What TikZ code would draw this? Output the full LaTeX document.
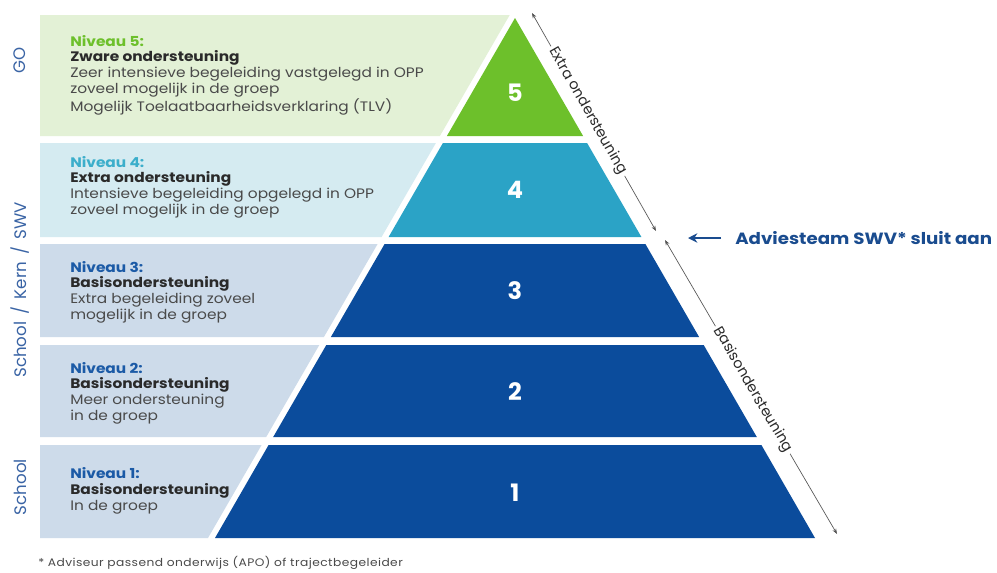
\documentclass[tikz,border=0pt]{standalone}
\usepackage{fontspec}
\setmainfont{Poppins}
\newfontfamily\widefont{Poppins}[FakeStretch=1.12]
\usetikzlibrary{arrows.meta}
\definecolor{boxg}{HTML}{E3F1D6}
\definecolor{pyrg}{HTML}{6DC02B}
\definecolor{boxc}{HTML}{D5EBF1}
\definecolor{pyrc}{HTML}{2BA3C6}
\definecolor{boxb}{HTML}{CDDBEA}
\definecolor{pyrb}{HTML}{0B4C9C}
\definecolor{txtb}{HTML}{1B5AA6}
\definecolor{txtc}{HTML}{3BAECB}
\definecolor{txtg}{HTML}{6DC02B}
\definecolor{bodyt}{HTML}{4A4A4A}
\definecolor{headt}{HTML}{2A2A2A}
\definecolor{sidet}{HTML}{3A64A5}
\definecolor{advt}{HTML}{1A4C8F}
\definecolor{dimt}{HTML}{555555}
\begin{document}
\begin{tikzpicture}[x=0.75pt,y=-0.75pt,
  lvltext/.style={anchor=west,align=left,inner sep=0pt,text=bodyt,font=\widefont\fontsize{10.3}{11.8}\selectfont},
  num/.style={text=white,font=\fontsize{18}{20}\selectfont\bfseries,inner sep=0pt},
  side/.style={rotate=90,text=sidet,font=\fontsize{12.5}{14}\selectfont,inner sep=0pt},
  dimline/.style={draw=dimt,line width=0.5pt,{Stealth[length=4pt,width=3pt]}-{Stealth[length=4pt,width=3pt]}},
  dimlabel/.style={sloped,fill=white,inner sep=2pt,text=headt,font=\fontsize{10.8}{12}\selectfont},
  hd/.style={text=headt}]
\useasboundingbox (0,0) rectangle (997,572);
\fill[white] (0,0) rectangle (997,572);
% left boxes
\fill[boxg] (40,15) -- (509.7,15) -- (439.9,136) -- (40,136) -- cycle;
\fill[boxc] (40,143) -- (435.9,143) -- (381.6,237) -- (40,237) -- cycle;
\fill[boxb] (40,244) -- (377.6,244) -- (323.9,337) -- (40,337) -- cycle;
\fill[boxb] (40,345) -- (319.3,345) -- (266.2,437) -- (40,437) -- cycle;
\fill[boxb] (40,445) -- (261.6,445) -- (208,538) -- (40,538) -- cycle;
% pyramid
\fill[pyrg] (515,18) -- (583.1,136) -- (446.9,136) -- cycle;
\fill[pyrc] (442.9,143) -- (587.1,143) -- (641.4,237) -- (388.6,237) -- cycle;
\fill[pyrb] (384.6,244) -- (645.4,244) -- (699.1,337) -- (330.9,337) -- cycle;
\fill[pyrb] (326.3,345) -- (703.7,345) -- (756.8,437) -- (273.2,437) -- cycle;
\fill[pyrb] (268.6,445) -- (761.4,445) -- (815,538) -- (215,538) -- cycle;
% numbers
\node[num] (n5) at (515,93) {5};
\node[num] (n4) at (515,190) {4};
\node[num] (n3) at (515,291) {3};
\node[num] (n2) at (515,392) {2};
\node[num] (n1) at (515,493) {1};
% level texts
\node[lvltext] (t5) at (70,75) {{\color{txtg}\bfseries Niveau 5:}\\{\color{headt}\bfseries Zware ondersteuning}\\Zeer intensieve begeleiding vastgelegd in OPP\\zoveel mogelijk in de groep\\Mogelijk Toelaatbaarheidsverklaring (TLV)};
\node[lvltext] (t4) at (70,187) {{\color{txtc}\bfseries Niveau 4:}\\{\color{headt}\bfseries Extra ondersteuning}\\Intensieve begeleiding opgelegd in OPP\\zoveel mogelijk in de groep};
\node[lvltext] (t3) at (70,292) {{\color{txtb}\bfseries Niveau 3:}\\{\color{headt}\bfseries Basisondersteuning}\\Extra begeleiding zoveel\\mogelijk in de groep};
\node[lvltext] (t2) at (70,393) {{\color{txtb}\bfseries Niveau 2:}\\{\color{headt}\bfseries Basisondersteuning}\\Meer ondersteuning\\in de groep};
\node[lvltext] (t1) at (70,491) {{\color{txtb}\bfseries Niveau 1:}\\{\color{headt}\bfseries Basisondersteuning}\\In de groep};
% side labels
\node[side] (sgo) at (20,60) {GO};
\node[side] (skern) at (20,290) {School \,/\, Kern \,/\, SWV};
\node[side] (sschool) at (20,487) {School};
% dimension arrows
\coordinate (e1) at (532,13);
\coordinate (e2) at (656,231);
\coordinate (b1) at (665,240);
\coordinate (b2) at (837,534);
\draw[dimline] (e1) -- node[dimlabel,pos=0.45] (le) {Extra ondersteuning} (e2);
\draw[dimline] (b1) -- node[dimlabel,pos=0.51] (lb) {Basisondersteuning} (b2);
% advies
\node[anchor=west,inner sep=0pt,text=advt,font=\widefont\fontsize{12.2}{14}\selectfont\bfseries] (adv) at (735,238) {Adviesteam SWV* sluit aan};
\coordinate (advtail) at (721,238);
\coordinate (advtip) at (688,238);
\draw[advt,line width=1.6pt,-{Stealth[length=7pt,width=7pt]}] (advtail) -- (advtip);
% footnote
\node[anchor=west,inner sep=0pt,text=bodyt,font=\widefont\fontsize{8.2}{9}\selectfont\addfontfeature{LetterSpace=4}] (fn) at (38,563) {* Adviseur passend onderwijs (APO) of trajectbegeleider};
\end{tikzpicture}
\end{document}
